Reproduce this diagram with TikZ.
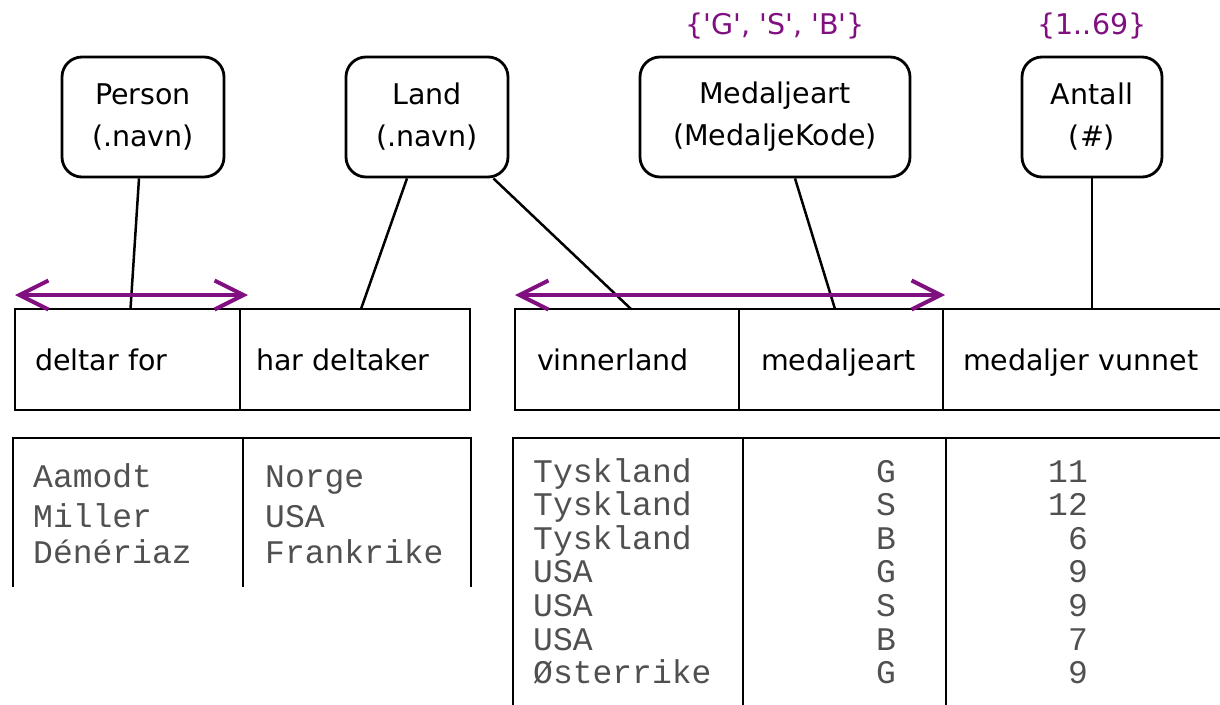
\documentclass[tikz,border=0pt]{standalone}
\usepackage{fontspec}
\setmainfont{DejaVu Sans}
\newfontfamily\domfont{DejaVu Sans}[Ligatures=TeXOff]
\newfontfamily\valfont{Liberation Mono}
\usepackage{tikz}
\usetikzlibrary{positioning,calc,arrows.meta}

\definecolor{rolepurple}{RGB}{128,16,128}
\definecolor{valgray}{RGB}{80,80,80}

\begin{document}
\begin{tikzpicture}[x=1pt,y=-1pt,
    attr/.style={draw, line width=2.8pt, rounded corners=20pt, align=center,
                 minimum height=120pt, font=\fontsize{28.5}{42}\selectfont},
    cell/.style={draw, line width=2.8pt, anchor=north west, minimum height=101pt,
                 outer sep=0pt, inner xsep=20pt, align=left, text width=#1pt,
                 text height=22pt, text depth=1pt, font=\fontsize{28.5}{34}\selectfont},
    val/.style={text=valgray, inner sep=0pt, font=\valfont\fontsize{33}{36}\selectfont},
    dom/.style={text=rolepurple, font=\domfont\fontsize{28.5}{34}\selectfont},
    link/.style={line width=2.5pt},
    role/.style={rolepurple, line width=4pt,
                 {Straight Barb[length=29pt,width=29pt]}-{Straight Barb[length=29pt,width=29pt]}}]
   \useasboundingbox (0,0) rectangle (1220,704);
   \clip (0,0) rectangle (1220,704);

   % object types
   \node[attr, minimum width=162pt] (person)  at (143,117)  {Person\\(.navn)};
   \node[attr, minimum width=162pt] (land)    at (427,117)  {Land\\(.navn)};
   \node[attr, minimum width=270pt] (medalje) at (775,117)  {Medaljeart\\(MedaljeKode)};
   \node[attr, minimum width=140pt] (antall)  at (1092,117) {Antall\\(\#)};
   \node[dom] (medaljedom) [above=13pt of medalje] {\{'G', 'S', 'B'\}};
   \node[dom] (antalldom)  [above=13pt of antall]  {\{1..69\}};

   % fact types
   \node[cell=185, inner xsep=20pt] (deltar)  at (15,309)        {deltar for};
   \node[cell=198, inner xsep=16pt] (harD)    [right=0pt of deltar] {har deltaker};
   \node[cell=180, inner xsep=22pt] (vinner)  at (515,309)       {vinnerland};
   \node[cell=160, inner xsep=22pt] (medcell) [right=0pt of vinner] {medaljeart};
   \node[cell=257] (antcell) [right=0pt of medcell]              {medaljer vunnet};

   \draw[link] ($(person.south)+(-4,0)$)     -- ($(deltar.north)+(3,0)$);
   \draw[link] ($(land.south)+(-20,0)$)      -- ($(harD.north)+(6,0)$);
   \draw[link] ($(land.south east)+(-16,0)$) -- ($(vinner.north)+(4,0)$);
   \draw[link] ($(medalje.south)+(20,0)$)    -- ($(medcell.north)+(-6,0)$);
   \draw[link] (antall.south)                -- (antall.south |- antcell.north);

   % uniqueness
   \draw[role] ($(deltar.north west)+(0,-14)$) -- ($(deltar.north east)+(8,-14)$);
   \draw[role] ($(vinner.north west)+(0,-14)$) -- ($(medcell.north east)+(2,-14)$);

   % populations
   \draw[line width=2.8pt] (13,587) -- (13,438) -- (471,438) -- (471,587)
                           (243,438) -- (243,587);
   \draw[line width=2.8pt] (513,710) -- (513,438) -- (1230,438)
                           (743,438) -- (743,710)
                           (946,438) -- (946,710);

   \node[val, anchor=base west] (p1) at (33,487) {Aamodt};
   \node[val, anchor=base west] (p2) at (33,527) {Miller};
   \node[val, anchor=base west] (p3) at (33,563) {Dénériaz};
   \node[val, anchor=base west] (l1) at (265,487) {Norge};
   \node[val, anchor=base west] (l2) at (265,527) {USA};
   \node[val, anchor=base west] (l3) at (265,563) {Frankrike};

   \foreach \vland/\vkode/\vant [count=\i] in
      {Tyskland/G/11, Tyskland/S/12, Tyskland/B/6, USA/G/9,
       USA/S/9, USA/B/7, Østerrike/G/9}
   {
     \node[val, anchor=base west] (vl\i) at (533,{482+33.6*(\i-1)}) {\vland};
     \node[val, anchor=base]      (vk\i) at (886,{482+33.6*(\i-1)}) {\vkode};
     \node[val, anchor=base east] (va\i) at (1088,{482+33.6*(\i-1)}) {\vant};
   }
\end{tikzpicture}
\end{document}
